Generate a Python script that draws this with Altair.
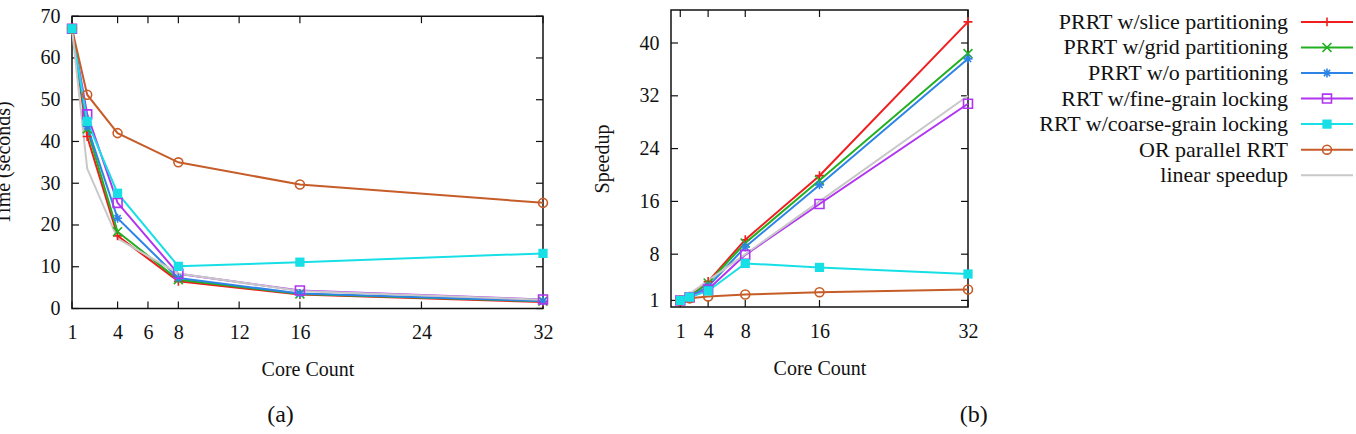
import altair as alt
import pandas as pd

FONT = "Liberation Serif"

cores = [1, 2, 4, 8, 16, 32]
series = [
    "PRRT w/slice partitioning",
    "PRRT w/grid partitioning",
    "PRRT w/o partitioning",
    "RRT w/fine-grain locking",
    "RRT w/coarse-grain locking",
    "OR parallel RRT",
    "linear speedup",
]
colors = ["#f01e1e", "#22b022", "#2d84e6", "#b034f0", "#16dfe6", "#c65c28", "#c8c8c8"]
shapes = [
    "M-1,0L1,0M0,-1L0,1",
    "M-1,-1L1,1M-1,1L1,-1",
    "M-1,0L1,0M0,-1L0,1M-0.7,-0.7L0.7,0.7M-0.7,0.7L0.7,-0.7",
    "square",
    "square",
    "circle",
]

# (a) run time in seconds
time_slice = [67.0, 41.2, 17.4, 6.5, 3.35, 1.55]
time_grid = [67.0, 43.0, 18.4, 6.9, 3.5, 1.75]
time_wo = [67.0, 43.6, 21.6, 7.3, 3.6, 1.78]
time_fine = [67.0, 46.5, 25.3, 8.3, 4.3, 2.17]
time_coarse = [67.0, 44.8, 27.6, 10.1, 11.1, 13.2]
time_or = [67.0, 51.2, 42.0, 35.0, 29.7, 25.3]
time_linear = [67.0, 33.5, 16.75, 8.4, 4.2, 2.1]

# (b) speedup
speed_slice = [1.0, 1.63, 3.85, 10.2, 19.9, 43.2]
speed_grid = [1.0, 1.56, 3.64, 9.7, 19.2, 38.4]
speed_wo = [1.0, 1.54, 3.1, 9.1, 18.5, 37.6]
speed_fine = [1.0, 1.44, 2.65, 7.9, 15.6, 30.8]
speed_coarse = [1.0, 1.5, 2.43, 6.6, 6.0, 5.0]
speed_or = [1.0, 1.31, 1.6, 1.9, 2.25, 2.65]
speed_linear = [1.0, 2.0, 4.0, 8.0, 16.0, 32.0]

time_ticks_x = [1, 4, 6, 8, 12, 16, 24, 32]
time_ticks_y = [0, 10, 20, 30, 40, 50, 60, 70]
speed_ticks_x = [1, 4, 8, 16, 32]
speed_ticks_y = [1, 8, 16, 24, 32, 40]

time_values = [time_slice, time_grid, time_wo, time_fine, time_coarse, time_or, time_linear]
speed_values = [speed_slice, speed_grid, speed_wo, speed_fine, speed_coarse, speed_or, speed_linear]


def long_df(values):
    rows = []
    for s, vals in zip(series, values):
        for c, v in zip(cores, vals):
            rows.append({"cores": c, "value": v, "series": s})
    return pd.DataFrame(rows)


color_scale = alt.Scale(domain=series, range=colors)
open_series = [series[i] for i in (0, 1, 2, 3, 5)]
open_shapes = [shapes[i] for i in (0, 1, 2, 3, 5)]
TEXT = "#111111"
TICK = 7


def panel(values, W, H, top, xdom, ydom, xticks, yticks, ytitle, caption, cap_x, cap_y):
    df = long_df(values)
    X = alt.X(
        "cores:Q",
        scale=alt.Scale(domain=xdom, nice=False, zero=False),
        axis=alt.Axis(values=xticks, title="Core Count", ticks=False, domain=False, grid=False,
                      labelPadding=14, titlePadding=17, format="d", labelFlush=False),
    )
    Y = alt.Y(
        "value:Q",
        scale=alt.Scale(domain=ydom, nice=False, zero=False, range=[H, top]),
        axis=alt.Axis(values=yticks, title=ytitle, ticks=False, domain=False, grid=False,
                      labelPadding=12, titlePadding=27, format="d", labelFlush=False),
    )
    base = alt.Chart(df)
    lines = base.mark_line(strokeWidth=2, clip=False).encode(
        x=X, y=Y,
        color=alt.Color("series:N", scale=color_scale, legend=None),
        order=alt.Order("cores:Q"),
    )
    pts_open = base.transform_filter(
        alt.FieldOneOfPredicate(field="series", oneOf=open_series)
    ).mark_point(filled=False, size=80, strokeWidth=1.6, opacity=1).encode(
        x=X, y=Y,
        color=alt.Color("series:N", scale=color_scale, legend=None),
        shape=alt.Shape("series:N", scale=alt.Scale(domain=open_series, range=open_shapes), legend=None),
    )
    pts_fill = base.transform_filter(
        alt.FieldEqualPredicate(field="series", equal=series[4])
    ).mark_square(filled=True, size=85, opacity=1, color=colors[4]).encode(x=X, y=Y)

    frame = alt.Chart(pd.DataFrame({"f": [0]})).mark_rect(
        filled=False, stroke=TEXT, strokeWidth=1.5
    ).encode(x=alt.value(0), x2=alt.value(W), y=alt.value(top), y2=alt.value(H))

    xt = pd.DataFrame({"cores": xticks})
    yt = pd.DataFrame({"value": yticks})
    tb = alt.Chart(xt).mark_rule(color=TEXT, strokeWidth=1.2).encode(x=X, y=alt.value(H), y2=alt.value(H - TICK))
    tt = alt.Chart(xt).mark_rule(color=TEXT, strokeWidth=1.2).encode(x=X, y=alt.value(top), y2=alt.value(top + TICK))
    tl = alt.Chart(yt).mark_rule(color=TEXT, strokeWidth=1.2).encode(y=Y, x=alt.value(0), x2=alt.value(TICK))
    tr = alt.Chart(yt).mark_rule(color=TEXT, strokeWidth=1.2).encode(y=Y, x=alt.value(W), x2=alt.value(W - TICK))

    cap = alt.Chart(pd.DataFrame({"c": [caption]})).mark_text(
        font=FONT, fontSize=24, color=TEXT, align="center", baseline="middle"
    ).encode(text="c:N", x=alt.value(cap_x), y=alt.value(cap_y))

    layers = [frame, tb, tt, tl, tr, lines, pts_open, pts_fill, cap]
    return alt.layer(*layers).properties(
        width=W, height=H,
        view=alt.ViewBackground(stroke="transparent", strokeWidth=0),
    )


# panel (a): plot area starts 6 px below the row origin, panel (b) at the origin
chart_a = panel(time_values, 471, 298.5, 6.2, [1, 32], [0, 70], time_ticks_x, time_ticks_y,
                "Time (seconds)", "(a)", 208.5, 405.2)
chart_b = panel(speed_values, 297, 297, 0, [0, 32], [0, 45], speed_ticks_x, speed_ticks_y,
                "Speedup", "(b)", 302.7, 405.2)

# legend panel
LW, LH = 327, 180
leg_df = pd.DataFrame({"series": series})
LY = alt.Y("series:N", sort=series,
           scale=alt.Scale(type="point", domain=series, range=[11.9, 165.2], padding=0), axis=None)
leg_lines = alt.Chart(leg_df).mark_rule(strokeWidth=2).encode(
    y=LY, x=alt.value(274), x2=alt.value(326),
    color=alt.Color("series:N", scale=color_scale, legend=None),
)
leg_text = alt.Chart(leg_df).mark_text(
    font=FONT, fontSize=22, color=TEXT, align="right", baseline="middle"
).encode(y=LY, x=alt.value(261), text="series:N")
leg_open = alt.Chart(leg_df).transform_filter(
    alt.FieldOneOfPredicate(field="series", oneOf=open_series)
).mark_point(filled=False, size=80, strokeWidth=1.6, opacity=1).encode(
    y=LY, x=alt.value(300),
    color=alt.Color("series:N", scale=color_scale, legend=None),
    shape=alt.Shape("series:N", scale=alt.Scale(domain=open_series, range=open_shapes), legend=None),
)
leg_fill = alt.Chart(leg_df).transform_filter(
    alt.FieldEqualPredicate(field="series", equal=series[4])
).mark_square(filled=True, size=85, opacity=1, color=colors[4]).encode(y=LY, x=alt.value(300))
legend = alt.layer(leg_lines, leg_text, leg_open, leg_fill).properties(
    width=LW, height=LH,
    view=alt.ViewBackground(stroke="transparent", strokeWidth=0),
)

chart = alt.hconcat(chart_a, chart_b, legend, spacing=39).properties(
    padding={"left": -7, "top": 6, "right": 0, "bottom": 0},
    background="white",
).configure_axis(
    labelFont=FONT, titleFont=FONT, labelFontSize=20, titleFontSize=20,
    titleFontWeight="normal", labelColor=TEXT, titleColor=TEXT,
).configure_text(font=FONT)

chart.save("out.html", embed_options={"renderer": "svg", "actions": False})
